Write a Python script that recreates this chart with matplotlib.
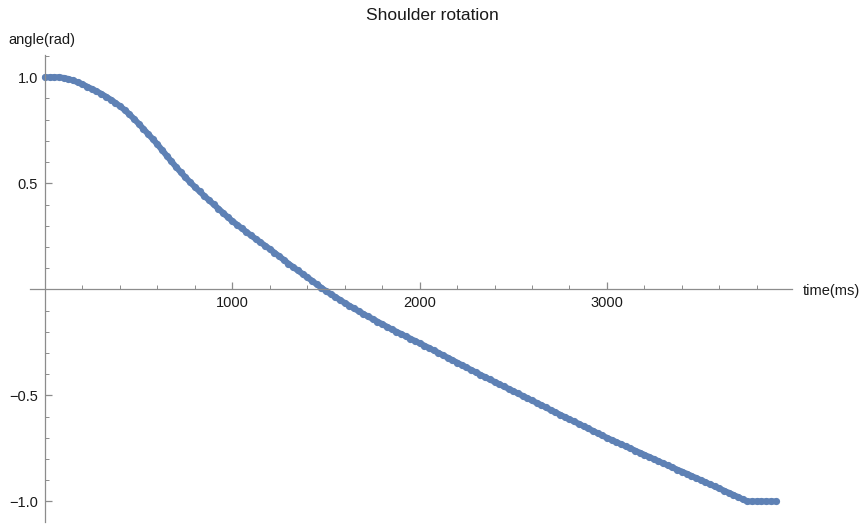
import numpy as np
from matplotlib import pyplot as plt
from matplotlib.ticker import MultipleLocator, FixedLocator

# time (ms) and shoulder angle (rad)
time_ms = np.arange(0, 3901, 25)
angle_rad = [
    1.000, 1.000, 1.000, 1.000, 0.997, 0.992, 0.985, 0.976, 0.967, 0.956,
    0.945, 0.934, 0.922, 0.909, 0.895, 0.880, 0.864, 0.846, 0.826, 0.804,
    0.781, 0.757, 0.733, 0.709, 0.684, 0.657, 0.630, 0.603, 0.577, 0.552,
    0.528, 0.505, 0.483, 0.462, 0.441, 0.421, 0.401, 0.381, 0.361, 0.341,
    0.322, 0.305, 0.288, 0.271, 0.254, 0.238, 0.222, 0.206, 0.190, 0.173,
    0.156, 0.139, 0.121, 0.105, 0.089, 0.073, 0.057, 0.041, 0.024, 0.008,
    -0.008, -0.022, -0.036, -0.050, -0.064, -0.077, -0.090, -0.103, -0.116, -0.128,
    -0.140, -0.152, -0.164, -0.176, -0.188, -0.199, -0.210, -0.221, -0.232, -0.243,
    -0.254, -0.265, -0.276, -0.288, -0.299, -0.311, -0.322, -0.334, -0.345, -0.357,
    -0.368, -0.380, -0.391, -0.403, -0.414, -0.425, -0.436, -0.447, -0.458, -0.469,
    -0.480, -0.491, -0.502, -0.513, -0.524, -0.535, -0.546, -0.557, -0.569, -0.580,
    -0.591, -0.602, -0.613, -0.623, -0.634, -0.645, -0.656, -0.667, -0.678, -0.689,
    -0.700, -0.710, -0.720, -0.730, -0.740, -0.750, -0.760, -0.770, -0.780, -0.790,
    -0.800, -0.810, -0.820, -0.830, -0.840, -0.850, -0.859, -0.869, -0.879, -0.889,
    -0.899, -0.909, -0.919, -0.929, -0.939, -0.949, -0.959, -0.969, -0.979, -0.990,
    -1.000, -1.000, -1.000, -1.000, -1.000, -1.000, -1.000,
]

x_major = [1000, 2000, 3000]
y_major = [-1.0, -0.5, 0.5, 1.0]
y_labels = ["\u22121.0", "\u22120.5", "0.5", "1.0"]

plt.rcParams['font.family'] = ['Liberation Sans', 'DejaVu Sans']
axis_color = '#8c8c8c'
text_color = '#1a1a1a'
point_color = '#5E81B5'

fig = plt.figure(figsize=(8.62, 5.24), dpi=100)
ax = fig.add_axes([30 / 862, 2 / 524, 762 / 862, 467 / 524])

# dense points in the reference merge into a thick band
ax.plot(time_ms, angle_rad, '-', color=point_color, linewidth=4.3,
        solid_capstyle='round', clip_on=False)
ax.plot(time_ms, angle_rad, 'o', color=point_color, markersize=5.2,
        markeredgewidth=0, clip_on=False)

ax.set_xlim(-80, 3988)
ax.set_ylim(-1.097, 1.105)

for side in ['top', 'right']:
    ax.spines[side].set_visible(False)
ax.spines['left'].set_position(('data', 0))
ax.spines['bottom'].set_position(('data', 0))
for side in ['left', 'bottom']:
    ax.spines[side].set_color(axis_color)
    ax.spines[side].set_linewidth(0.9)

ax.xaxis.set_major_locator(FixedLocator(x_major))
ax.xaxis.set_minor_locator(MultipleLocator(200))
ax.yaxis.set_major_locator(FixedLocator(y_major))
ax.set_yticklabels(y_labels)
ax.yaxis.set_minor_locator(MultipleLocator(0.1))

ax.tick_params(axis='x', which='major', direction='in', length=5, width=0.9,
               color=axis_color, labelsize=10.5, labelcolor=text_color, pad=5)
ax.tick_params(axis='x', which='minor', direction='in', length=3, width=0.7,
               color=axis_color)
ax.tick_params(axis='y', which='major', direction='in', length=5, width=0.9,
               color=axis_color, labelsize=10.5, labelcolor=text_color, pad=5)
ax.tick_params(axis='y', which='minor', direction='in', length=3, width=0.7,
               color=axis_color)

fig.text(432 / 862, 1 - 16 / 524, "Shoulder rotation", ha='center', va='center',
         fontsize=12.5, color=text_color)
fig.text(8 / 862, 1 - 40 / 524, "angle(rad)", ha='left', va='center',
         fontsize=10.5, color=text_color)
fig.text(803 / 862, 1 - 291 / 524, "time(ms)", ha='left', va='center',
         fontsize=10.5, color=text_color)

fig.savefig('out.png', dpi=100)
